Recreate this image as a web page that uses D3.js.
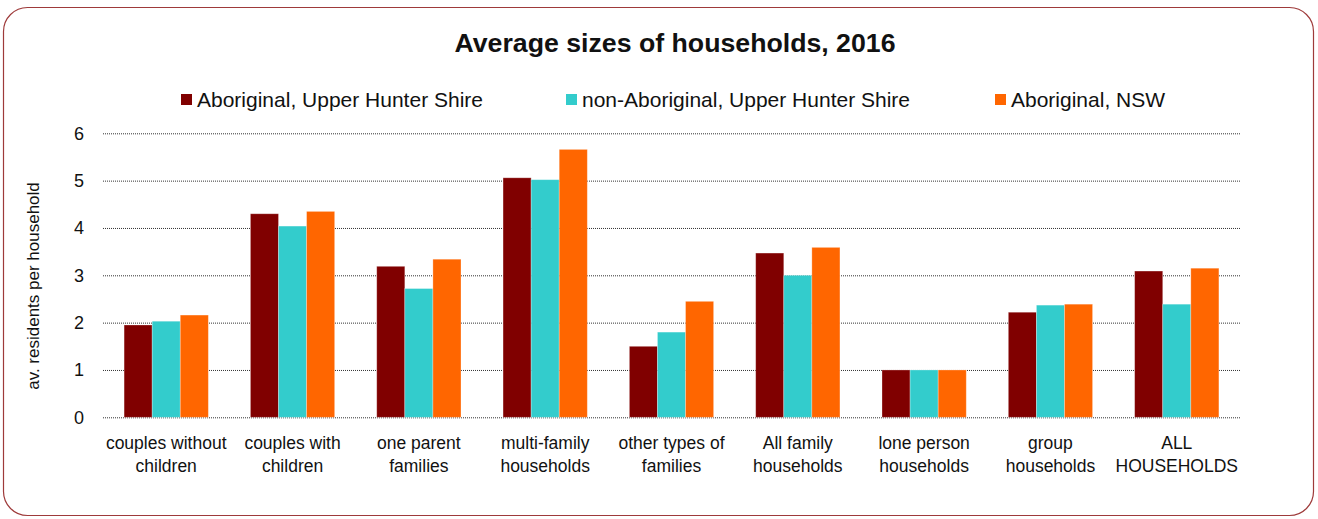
<!DOCTYPE html>
<meta charset="utf-8">
<style>
    body { margin: 0; background: #fff; }
    text { font-family: "Liberation Sans", Arial, sans-serif; fill: #111; }
    .grid line { stroke: #333; stroke-dasharray: 1,1; }
</style>
<body>
<script src="https://cdn.jsdelivr.net/npm/d3@7"></script>
<script>
// data
var categories = ["couples without children", "couples with children", "one parent families",
    "multi-family households", "other types of families", "All family households",
    "lone person households", "group households", "ALL HOUSEHOLDS"];
var categoryLines = [["couples without", "children"], ["couples with", "children"], ["one parent", "families"],
    ["multi-family", "households"], ["other types of", "families"], ["All family", "households"],
    ["lone person", "households"], ["group", "households"], ["ALL", "HOUSEHOLDS"]];
var seriesNames = ["Aboriginal, Upper Hunter Shire", "non-Aboriginal, Upper Hunter Shire", "Aboriginal, NSW"];
var aboriginalUH = [1.95, 4.30, 3.19, 5.06, 1.50, 3.47, 1.00, 2.22, 3.09];
var nonAboriginalUH = [2.03, 4.04, 2.72, 5.02, 1.80, 3.00, 1.00, 2.37, 2.39];
var aboriginalNSW = [2.16, 4.35, 3.34, 5.66, 2.45, 3.59, 1.00, 2.39, 3.15];
var yTicks = [0, 1, 2, 3, 4, 5, 6];
var colors = ["#800000", "#33CCCC", "#FF6600"];

var w = 1318, h = 519;
var plotLeft = 103, plotRight = 1240, plotTop = 133.3, plotBottom = 417.3;

var svg = d3.select("body").append("svg")
    .attr("width", w)
    .attr("height", h);

// rounded frame
svg.append("rect")
    .attr("x", 3.5).attr("y", 7.5)
    .attr("width", 1310).attr("height", 508)
    .attr("rx", 24).attr("ry", 24)
    .attr("fill", "none")
    .attr("stroke", "#9e3a3a")
    .attr("stroke-width", 1.2);

// title
svg.append("text")
    .attr("x", 675).attr("y", 52)
    .attr("text-anchor", "middle")
    .style("font-size", "26.7px")
    .style("font-weight", "bold")
    .text("Average sizes of households, 2016");

var xScale = d3.scaleBand()
    .domain(categories)
    .range([plotLeft, plotRight])
    .paddingInner(0.333)
    .paddingOuter(0.167);

var xInner = d3.scaleBand()
    .domain(d3.range(seriesNames.length))
    .range([0, xScale.bandwidth()]);

var yScale = d3.scaleLinear()
    .domain([0, 6])
    .range([plotBottom, plotTop]);

// gridlines + y labels
var yAxis = d3.axisLeft(yScale)
    .tickValues(yTicks)
    .tickSize(-(plotRight - plotLeft))
    .tickPadding(19)
    .tickFormat(d3.format("d"));

var gy = svg.append("g")
    .attr("class", "grid")
    .attr("transform", "translate(" + plotLeft + ",0)")
    .call(yAxis);
gy.select(".domain").remove();
gy.selectAll("text").style("font-size", "18px").attr("fill", "#111");

// y title
svg.append("text")
    .attr("transform", "translate(39,286) rotate(-90)")
    .attr("text-anchor", "middle")
    .style("font-size", "17px")
    .text("av. residents per household");

// bars
var seriesValues = [aboriginalUH, nonAboriginalUH, aboriginalNSW];
seriesValues.forEach(function (vals, s) {
    svg.append("g")
        .selectAll("rect")
        .data(vals)
        .enter()
        .append("rect")
        .attr("x", function (d, i) { return xScale(categories[i]) + xInner(s); })
        .attr("y", function (d) { return yScale(d); })
        .attr("width", xInner.bandwidth())
        .attr("height", function (d) { return plotBottom - yScale(d); })
        .attr("fill", colors[s])
        .attr("stroke", "#fff")
        .attr("stroke-opacity", 0.35)
        .attr("stroke-width", 0.8);
});

// x labels
var xl = svg.append("g")
    .selectAll("text")
    .data(categories)
    .enter()
    .append("text")
    .attr("text-anchor", "middle")
    .style("font-size", "17.5px")
    .attr("x", function (d) { return xScale(d) + xScale.bandwidth() / 2; })
    .attr("y", 449);
xl.each(function (d, i) {
    var t = d3.select(this);
    categoryLines[i].forEach(function (line, j) {
        t.append("tspan")
            .attr("x", xScale(d) + xScale.bandwidth() / 2)
            .attr("dy", j === 0 ? 0 : 23)
            .text(line);
    });
});

// legend
var legendX = [181, 566, 995];
var legend = svg.append("g")
    .selectAll("g")
    .data(seriesNames)
    .enter()
    .append("g")
    .attr("transform", function (d, i) { return "translate(" + legendX[i] + ",0)"; });
legend.append("rect")
    .attr("x", 0).attr("y", 94)
    .attr("width", 11).attr("height", 11)
    .attr("fill", function (d, i) { return colors[i]; });
legend.append("text")
    .attr("x", 16).attr("y", 107)
    .style("font-size", "21px")
    .text(function (d) { return d; });
</script>
</body>
